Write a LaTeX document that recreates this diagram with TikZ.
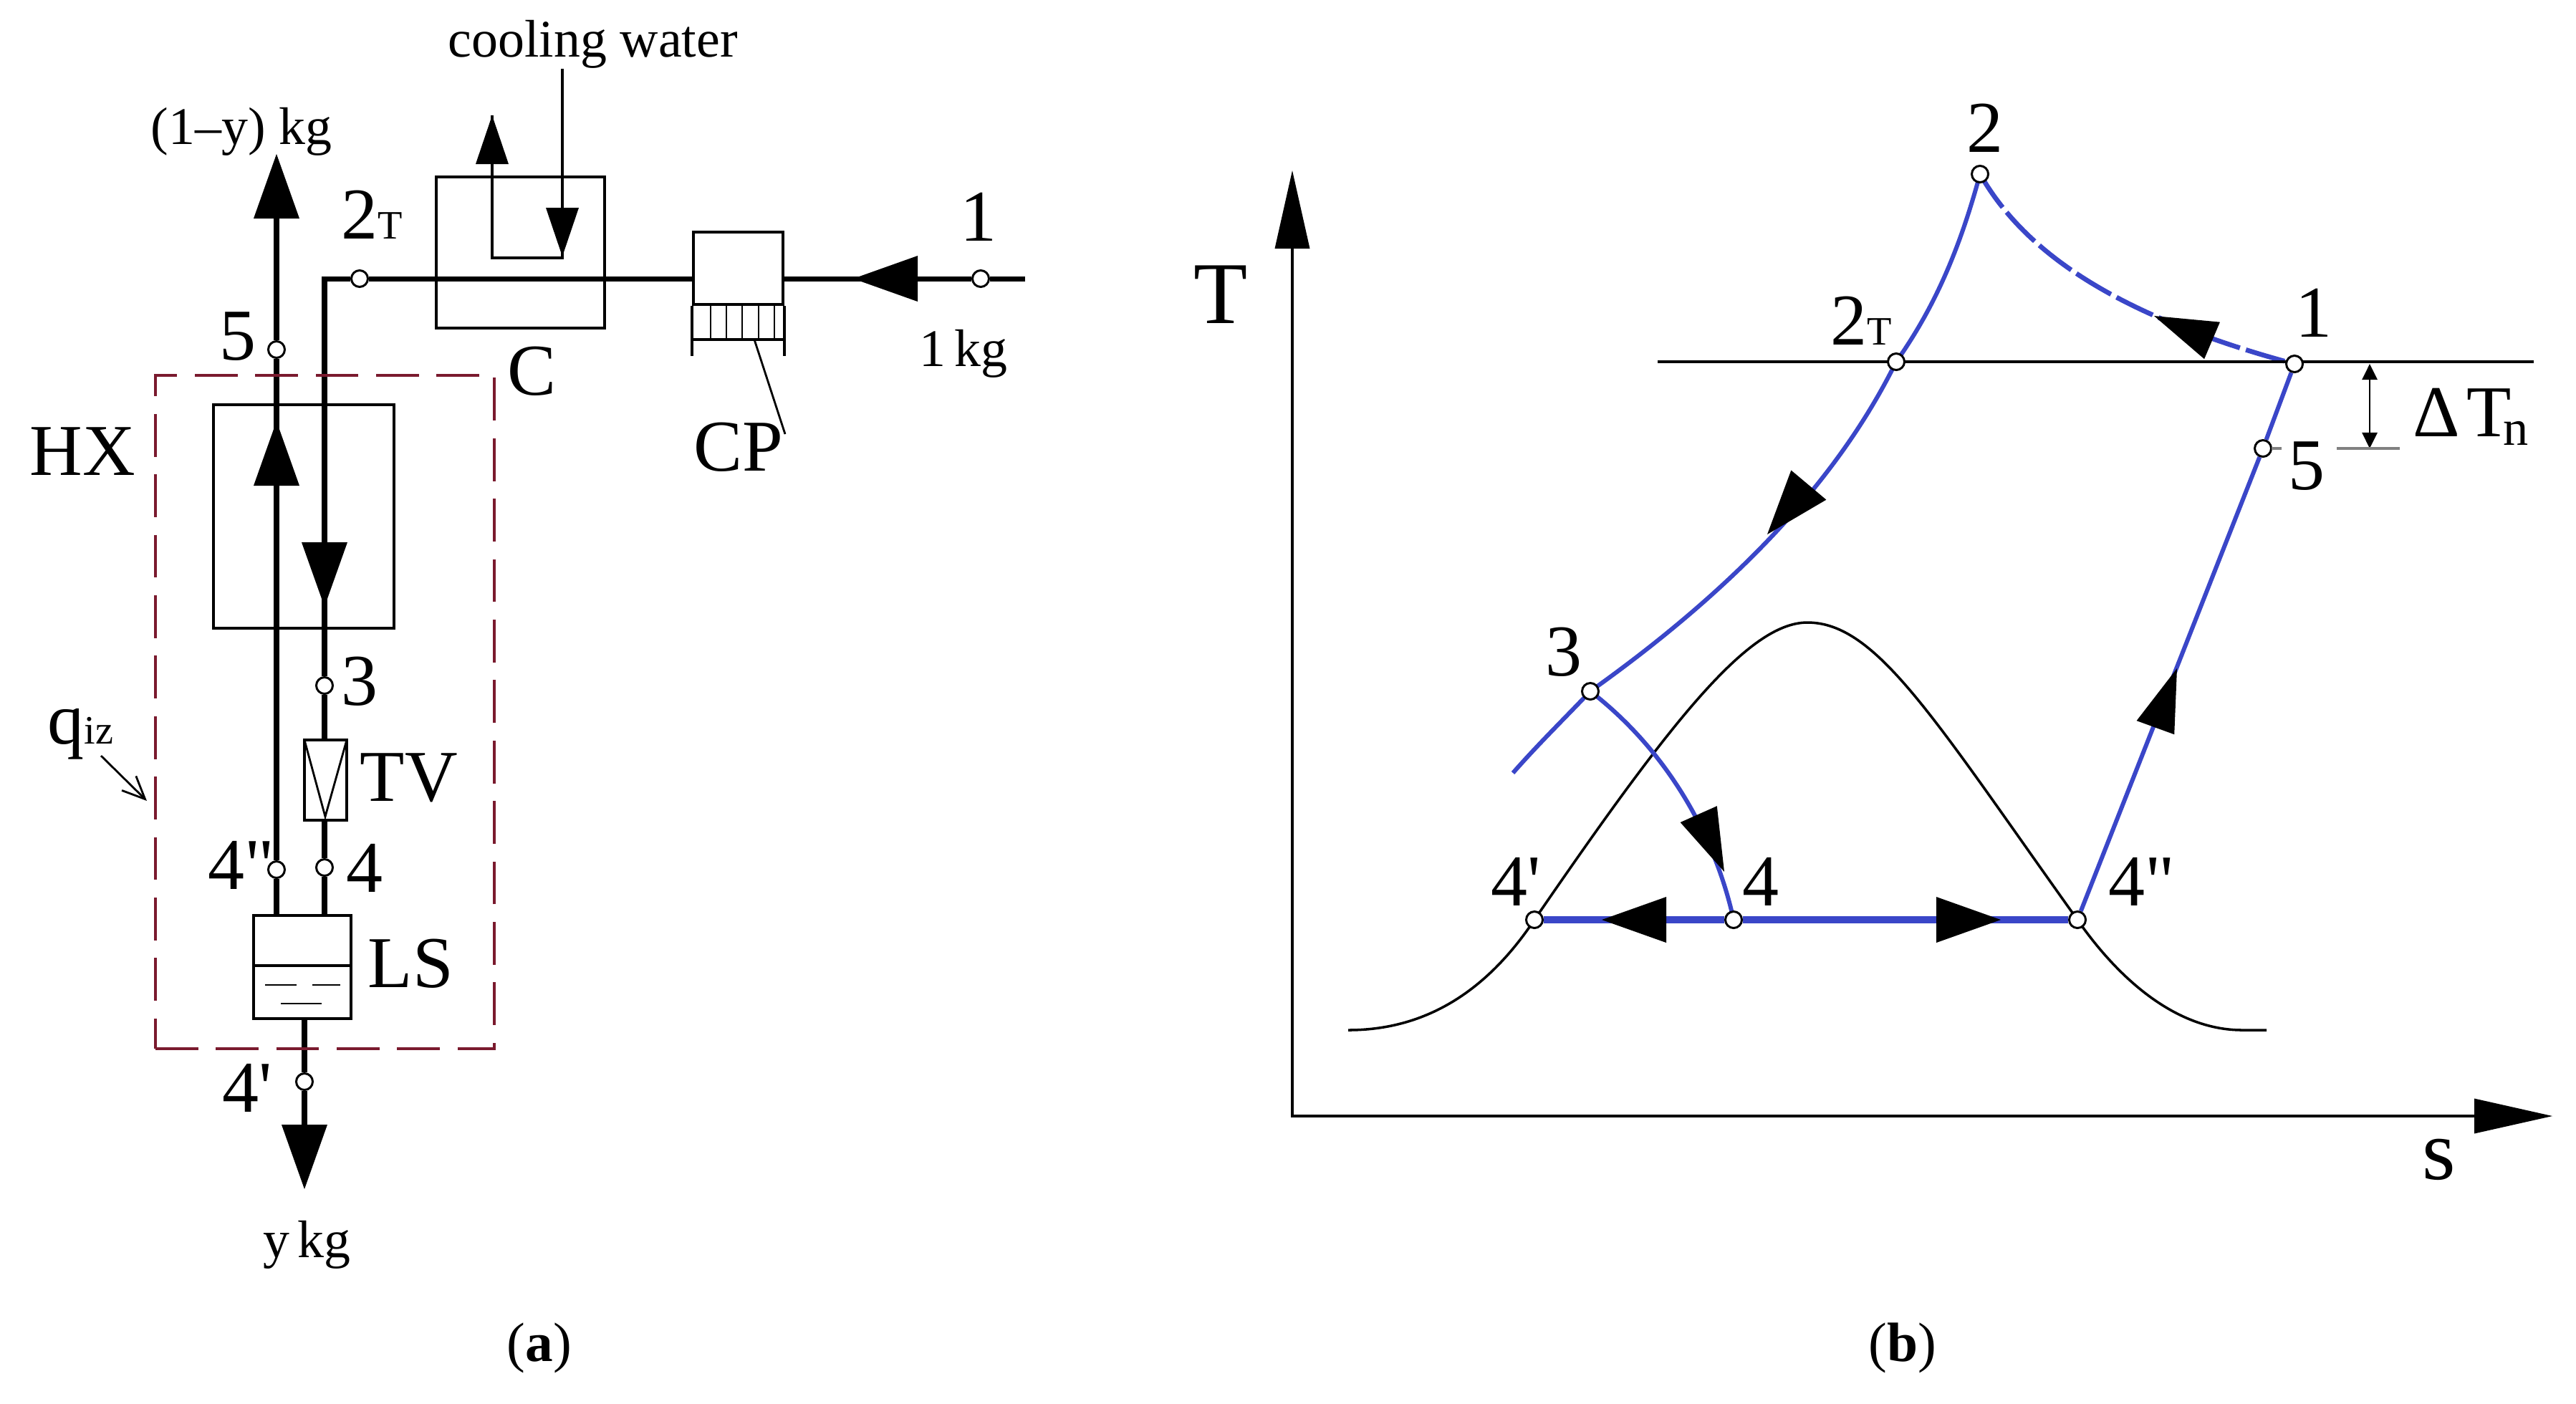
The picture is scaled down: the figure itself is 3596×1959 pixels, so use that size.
\documentclass[tikz,border=0pt]{standalone}
\usepackage{fontspec}
\newfontfamily\labfont{Liberation Serif}
\usetikzlibrary{arrows.meta,backgrounds}
\definecolor{cycleblue}{HTML}{3A46C8}
\definecolor{isored}{HTML}{7A1A2E}
\newcommand{\subfont}{\fontsize{16}{16}\selectfont}
\tikzset{
  biglab/.style={anchor=base west,font=\labfont\fontsize{29}{30}\selectfont},
  midlab/.style={anchor=base west,font=\labfont\fontsize{21}{22}\selectfont},
  statept/.style={circle,draw,fill=white,line width=0.85pt,minimum size=0.23cm},
  unitbox/.style={draw,line width=1.15pt},
  pipe/.style={line width=2pt},
  cycleline/.style={cycleblue,line width=1.7pt},
  bighead/.pic={\fill (0,0) -- (-90,32) -- (-90,-32) -- cycle;},
  midhead/.pic={\fill (0,0) -- (-88,28) -- (-88,-28) -- cycle;},
  smallhead/.pic={\fill (0,0) -- (-68,23) -- (-68,-23) -- cycle;},
  axishead/.pic={\fill (0,0) -- (-109,24.5) -- (-109,-24.5) -- cycle;},
}

\begin{document}
\begin{tikzpicture}[x=0.01cm,y=-0.01cm,line cap=butt,line join=miter,every node/.style={inner sep=0pt}]
  \useasboundingbox (0,0) rectangle (3596,1959);
  % flow scheme
  \node[statept] (a1) at (1369,389) {};
  \node[statept] (a2T) at (502,389) {};
  \node[statept] (a5) at (386,488) {};
  \node[statept] (a3) at (453,957) {};
  \node[statept] (a4) at (453,1211) {};
  \node[statept] (a4dd) at (386,1214) {};
  \node[statept] (a4d) at (425,1510) {};
  \coordinate (pipeIn) at (1431,389);
  \coordinate (outVap) at (386,215);
  \coordinate (outLiq) at (425,1660);
  \node[unitbox,minimum width=2.35cm,minimum height=2.11cm] (C) at (726.5,352.5) {};
  \node[unitbox,minimum width=1.25cm,minimum height=1.01cm] (CP) at (1030.5,374.5) {};
  \node[unitbox,minimum width=2.52cm,minimum height=3.12cm] (HX) at (424,721) {};
  \node[unitbox,minimum width=0.59cm,minimum height=1.12cm] (TV) at (454.5,1089) {};
  \node[unitbox,minimum width=1.36cm,minimum height=1.44cm] (LS) at (422,1350) {};
  \node[draw=isored,line width=1.2pt,dash pattern=on 17pt off 7pt,minimum width=4.73cm,minimum height=9.4cm] (iso) at (453.5,994) {};
  \begin{scope}[on background layer]
    \draw[pipe] (pipeIn) -- (a1);
    \draw[pipe] (a1) -- (a1 -| CP.east);
    \draw[pipe] (a1 -| CP.west) -- (a2T);
    \draw[pipe] (a2T) -- (a2T -| a3) -- (a3);
    \draw[pipe] (a3) -- (a3 |- TV.north);
    \draw[pipe] (a3 |- TV.south) -- (a4);
    \draw[pipe] (a4) -- (a4 |- LS.north);
    \draw[pipe] (a4dd |- LS.north) -- (a4dd);
    \draw[pipe] (a4dd) -- (a5);
    \draw[pipe] (a5) -- ([yshift=-0.8cm]outVap);
    \draw[pipe] (a4d |- LS.south) -- (a4d);
    \draw[pipe] (a4d) -- ([yshift=0.8cm]outLiq);
  \end{scope}
  \pic[rotate=180] at (1191,389) {bighead};
  \pic[rotate=90] at (outVap) {bighead};
  \pic[rotate=90] at (386,588) {bighead};
  \pic[rotate=-90] at (453,847) {bighead};
  \pic[rotate=-90] at (outLiq) {bighead};
  % condenser water loop
  \coordinate (cwIn) at (785,96);
  \coordinate (cwOut) at (687,161);
  \draw[line width=1pt] (cwIn) -- (785,360) -- (687,360) -- (cwOut);
  \pic[rotate=90] at (cwOut) {smallhead};
  \pic[rotate=-90] at (785,358) {smallhead};
  % cooling fins
  \draw[line width=1.15pt] (CP.south west) -- +(0,70);
  \draw[line width=1.15pt] (CP.south east) -- +(0,70);
  \draw[line width=1.15pt] (968,474) -- (1093,474);
  \foreach \x in {992,1014,1036,1059,1081}
    \draw[line width=0.8pt] (\x,425) -- (\x,474);
  \draw[line width=0.8pt] (1053,474) -- (1096,606);
  \draw[line width=0.8pt] (425,1033) -- (454,1140) -- (484,1033);
  \draw[line width=1pt] (LS.west |- 0,1348) -- (LS.east |- 0,1348);
  \draw[line width=0.8pt] (370,1375) -- (414,1375);
  \draw[line width=0.8pt] (436,1375) -- (475,1375);
  \draw[line width=0.8pt] (392,1401) -- (449,1401);
  \coordinate (qA) at (141,1055);
  \coordinate (qB) at (205,1118);
  \draw[line width=0.8pt,-{Straight Barb[length=9pt,width=8pt]}] (qA) -- (qB);
  % labels of the scheme
  \node[midlab] (tCool) at (625,79) {cooling water};
  \node[midlab] (tVap) at (210,201) {(1–y) kg};
  \node[biglab] (t2T) at (476,333) {2{\subfont T}};
  \node[biglab] (t1) at (1340,336) {1};
  \node[midlab] (tFeed) at (1283,511) {1\kern3.5pt kg};
  \node[biglab] (t5) at (306,502) {5};
  \node[biglab] (tC) at (708,551) {C};
  \node[biglab] (tCP) at (968,657) {CP};
  \node[biglab] (tHX) at (41,663) {HX};
  \node[biglab] (t3) at (476,984) {3};
  \node[biglab] (tTV) at (502,1118) {TV};
  \node[biglab] (t4dd) at (290,1241) {4"};
  \node[biglab] (t4) at (483,1245) {4};
  \node[biglab] (tLS) at (513,1378) {LS};
  \node[biglab] (t4d) at (310,1552) {4'};
  \node[midlab] (tLiq) at (367,1755) {y\kern3pt kg};
  \node[biglab] (tq) at (66,1038) {q{\subfont iz}};
  \node[anchor=base,font=\labfont\fontsize{22}{24}\selectfont] (capA) at (753,1900) {(\textbf{a})};
  % T-s diagram
  \coordinate (orig) at (1804,1558);
  \coordinate (axT) at (1804,238);
  \coordinate (axS) at (3563,1558);
  \draw[line width=1.1pt] ([yshift=-1cm]axT) -- (orig) -- ([xshift=-1cm]axS);
  \pic[rotate=90] at (axT) {axishead};
  \pic at (axS) {axishead};
  \coordinate (isoL) at (2314,505);
  \coordinate (isoR) at (3537,505);
  \draw[line width=1.1pt] (isoL) -- (isoR);
  \node[statept] (b2) at (2764,243) {};
  \node[statept] (b2T) at (2647,505) {};
  \node[statept] (b1) at (3203,508) {};
  \node[statept] (b5) at (3159,626) {};
  \node[statept] (b3) at (2220,965) {};
  \node[statept] (b4) at (2420,1284) {};
  \node[statept] (b4d) at (2142,1284) {};
  \node[statept] (b4dd) at (2900,1284) {};
  \begin{scope}[on background layer]
    \draw[line width=1pt] (1882,1438) .. controls (1985,1438) and (2072,1389) .. (b4d.center)
      .. controls (2330,1010) and (2440,869) .. (2523,869)
      .. controls (2620,869) and (2700,1004) .. (b4dd.center)
      .. controls (2960,1370) and (3040,1438) .. (3130,1438) -- (3164,1438);
    \draw[cycleline] (b2.center) .. controls (2735,350) and (2700,430) .. (b2T.center)
      .. controls (2590,620) and (2480,780) .. (b3.center)
      .. controls (2184,1003) and (2148,1038) .. (2112,1079);
    \draw[cycleline,line width=1.9pt,dash pattern=on 16pt off 2.5pt] (b2.center) .. controls (2825,350) and (2950,440) .. (b1.center);
    \draw[cycleline] (b3.center) .. controls (2330,1050) and (2395,1170) .. (b4.center);
    \draw[cycleline] (b4dd) -- (b5);
    \draw[cycleline] (b5) -- (b1);
    \draw[cycleline,line width=2.6pt] (b4d) -- (b4);
    \draw[cycleline,line width=2.6pt] (b4) -- (b4dd);
  \end{scope}
  \pic[rotate=157] at (3007,441) {midhead};
  \pic[rotate=230] at (2467,746) {bighead};
  \pic[rotate=-66] at (2407,1217) {midhead};
  \pic[rotate=180] at (2236,1284) {bighead};
  \pic at (2793,1284) {bighead};
  \pic[rotate=70] at (3039,933) {midhead};
  % temperature difference
  \coordinate (dtTop) at (3308,508);
  \coordinate (dtBot) at (3308,626);
  \draw[line width=0.8pt,{Triangle[length=6.3pt,width=6pt]}-{Triangle[length=6.3pt,width=6pt]}] (dtTop) -- (dtBot);
  \draw[gray,line width=1pt] (3171,626) -- (3185,626);
  \draw[gray,line width=1pt] (3262,626) -- (3350,626);
  \node[biglab] (sT) at (1666,451) {\fontsize{35}{38}\selectfont T};
  \node[biglab] (sS) at (3381,1646) {\fontsize{34}{36}\selectfont s};
  \node[biglab] (s2) at (2745,212) {2};
  \node[biglab] (s2T) at (2555,481) {2{\subfont T}};
  \node[biglab] (s1) at (3204,470) {1};
  \node[biglab] (s5) at (3194,683) {5};
  \node[biglab] (s3) at (2157,943) {3};
  \node[biglab] (s4d) at (2081,1264) {4'};
  \node[biglab] (s4) at (2432,1264) {4};
  \node[biglab] (s4dd) at (2943,1264) {4"};
  \node[biglab] (sDT) at (3368,609) {Δ\kern2.5pt T\kern-3pt\raisebox{-0.12cm}{\fontsize{20}{20}\selectfont n}};
  \node[anchor=base,font=\labfont\fontsize{22}{24}\selectfont] (capB) at (2656,1900) {(\textbf{b})};
\end{tikzpicture}
\end{document}
